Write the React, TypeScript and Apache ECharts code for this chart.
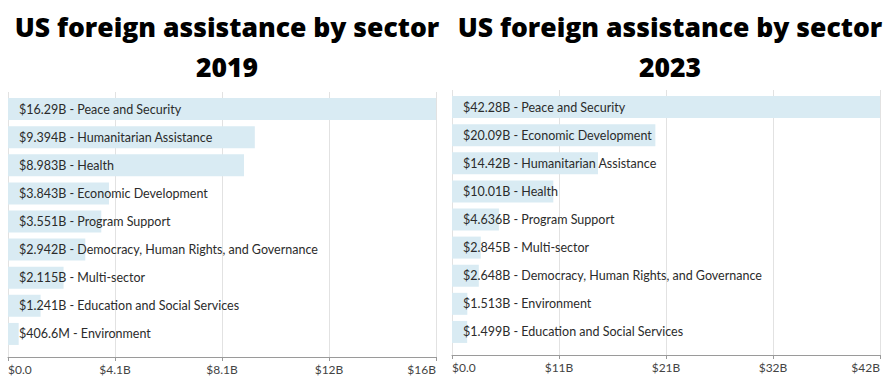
import React, { useEffect, useRef } from "react";
import * as echarts from "echarts";

const sectors2019 = [
  "Peace and Security",
  "Humanitarian Assistance",
  "Health",
  "Economic Development",
  "Program Support",
  "Democracy, Human Rights, and Governance",
  "Multi-sector",
  "Education and Social Services",
  "Environment",
];
const values2019 = [16.29, 9.394, 8.983, 3.843, 3.551, 2.942, 2.115, 1.241, 0.4066];

const sectors2023 = [
  "Peace and Security",
  "Economic Development",
  "Humanitarian Assistance",
  "Health",
  "Program Support",
  "Multi-sector",
  "Democracy, Human Rights, and Governance",
  "Environment",
  "Education and Social Services",
];
const values2023 = [42.28, 20.09, 14.42, 10.01, 4.636, 2.845, 2.648, 1.513, 1.499];

const titleText = "US foreign assistance by sector";
const years = ["2019", "2023"];

const BAR_COLOR = "#d9ebf3";
const FONT = "Lato";
const TITLE_FONT = "Open Sans";

function fmtValue(v: number): string {
  if (v >= 1) return "$" + v.toPrecision(4) + "B";
  return "$" + (v * 1000).toPrecision(4) + "M";
}
function fmtTick(v: number): string {
  return "$" + v.toPrecision(2) + (v === 0 ? "" : "B");
}

export default function App() {
  const ref = useRef<HTMLDivElement>(null);
  useEffect(() => {
    if (!ref.current) return;
    const chart = echarts.init(ref.current, null, { renderer: "svg" });
    const max19 = Math.max(...values2019);
    const max23 = Math.max(...values2023);

    const displayX = (gridIndex: number, max: number) => ({
      type: "value",
      gridIndex,
      min: 0,
      max,
      interval: max / 4,
      axisLine: { show: true, lineStyle: { color: "#9a9a9a", width: 1 } },
      axisTick: { show: true, length: 4, lineStyle: { color: "#9a9a9a" } },
      splitLine: { show: true, lineStyle: { color: "#e2e2e2", width: 1 } },
      axisLabel: {
        show: true,
        formatter: (v: number) => fmtTick(v),
        color: "#444",
        fontFamily: FONT,
        fontSize: 12,
        margin: 6,
        alignMinLabel: "left",
        alignMaxLabel: "right",
      },
    });
    const barX = (gridIndex: number, max: number) => ({
      type: "value",
      gridIndex,
      min: 0,
      max,
      show: false,
      splitLine: { show: false },
    });

    const mkSeries = (idx: number, names: string[], vals: number[]) => ({
      type: "bar",
      xAxisIndex: idx,
      yAxisIndex: idx,
      barWidth: 22,
      data: vals.map((v, i) => ({ value: v, name: names[i] })),
      itemStyle: { color: BAR_COLOR },
      label: {
        show: true,
        position: "insideLeft",
        distance: 11,
        formatter: (p: any) => fmtValue(p.value) + " - " + p.name,
        color: "#2b2b2b",
        fontFamily: FONT,
        fontSize: 12.5,
      },
      silent: true,
    });

    const titleStyle = {
      fontFamily: TITLE_FONT,
      fontWeight: 800,
      fontSize: 26.5,
      lineHeight: 40,
      color: "#000",
    };

    chart.setOption({
      animation: false,
      backgroundColor: "#ffffff",
      title: [
        { text: titleText + "\n" + years[0], left: 222, top: 2, textAlign: "center", textStyle: titleStyle },
        { text: titleText + "\n" + years[1], left: 665, top: 2, textAlign: "center", textStyle: titleStyle },
      ],
      grid: [
        { left: 8, width: 428, top: 92, height: 265 },
        { left: 452, width: 428, top: 90, height: 265 },
        { left: 8, width: 428, top: 95, height: 253 },
        { left: 452, width: 428, top: 93, height: 253 },
      ],
      xAxis: [
        displayX(0, max19),
        displayX(1, max23),
        barX(2, max19),
        barX(3, max23),
      ],
      yAxis: [
        { type: "value", gridIndex: 0, show: false, min: 0, max: 1, splitLine: { show: false } },
        { type: "value", gridIndex: 1, show: false, min: 0, max: 1, splitLine: { show: false } },
        { type: "category", gridIndex: 2, show: false, inverse: true, data: sectors2019 },
        { type: "category", gridIndex: 3, show: false, inverse: true, data: sectors2023 },
      ],
      series: [
        { ...mkSeries(2, sectors2019, values2019) },
        { ...mkSeries(3, sectors2023, values2023) },
      ],
    });
    return () => chart.dispose();
  }, []);
  return <div ref={ref} style={{ width: 885, height: 390, position: "absolute", left: 0, top: 0 }} />;
}
